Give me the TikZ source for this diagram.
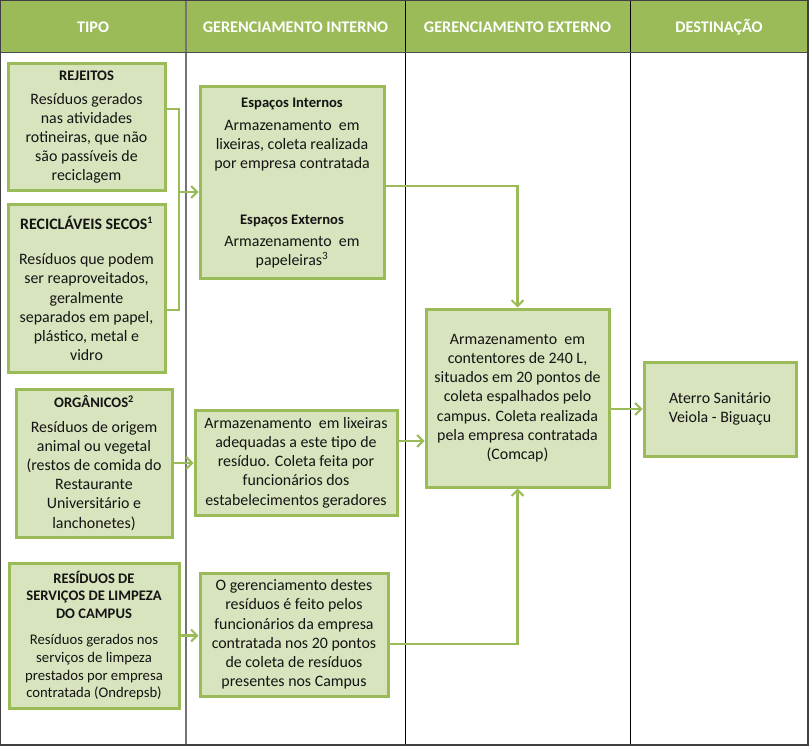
\documentclass[tikz,border=0pt]{standalone}
\usepackage{fontspec}
\setmainfont{Carlito}
\usetikzlibrary{arrows.meta}
\definecolor{hdr}{HTML}{9BBB59}
\definecolor{boxfill}{HTML}{D7E4BD}
\definecolor{boxline}{HTML}{9BBB59}
\definecolor{txt}{HTML}{141414}
\newcommand{\ttl}[1]{{\fontsize{14.6}{19.2}\selectfont\bfseries #1}}
\newcommand{\stl}[1]{{\fontsize{14.6}{17}\selectfont\bfseries #1}}
\begin{document}
\begin{tikzpicture}[x=1pt,y=-1pt,
  box/.style={draw=boxline, fill=boxfill, line width=3pt, align=center, inner sep=0pt, text=txt, font=\fontsize{15.9}{19.2}\selectfont},
  link/.style={draw=hdr, line width=2.5pt},
  arr/.style={link, -{Straight Barb[length=6pt,width=12pt,line width=2pt]}},
  hd/.style={text=white, font=\bfseries\fontsize{16.2}{18}\selectfont}]
\useasboundingbox (0,0) rectangle (809,746);
\fill[white] (0,0) rectangle (809,746);
\fill[hdr] (0,0) rectangle (808,53);
% columns
\draw[black!55, line width=2pt] (186,0) -- (186,745);
\draw[black, line width=1pt] (405,0) -- (405,745);
\draw[black, line width=1pt] (630,0) -- (630,745);
\draw[black!75, line width=1.2pt] (0.6,0.6) rectangle (808,745);
\draw[black!70, line width=1pt] (0,53) -- (808,53);
% headers
\node[hd] (h1) at (93,27) {TIPO};
\node[hd] (h2) at (295.5,27) {GERENCIAMENTO INTERNO};
\node[hd] (h3) at (517.5,27) {GERENCIAMENTO EXTERNO};
\node[hd] (h4) at (719,27) {DESTINAÇÃO};
% type boxes
\node[box, minimum width=157pt, minimum height=127pt] (rej) at (86.5,127.5)
  {\ttl{REJEITOS}\\[4pt]Resíduos gerados\\nas atividades\\rotineiras, que não\\são passíveis de\\reciclagem};
\node[box, minimum width=157pt, minimum height=167pt] (rec) at (86.5,288.5)
  {\textbf{RECICLÁVEIS SECOS\textsuperscript{\fontsize{10}{10}\selectfont 1}}\\[16pt]Resíduos que podem\\ser reaproveitados,\\geralmente\\separados em papel,\\plástico, metal e\\vidro};
\node[box, minimum width=156pt, minimum height=148pt] (org) at (94,463)
  {\ttl{ORGÂNICOS\textsuperscript{2}}\\[5pt]Resíduos de origem\\animal ou vegetal\\(restos de comida do\\Restaurante\\Universitário e\\lanchonetes)};
\node[box, minimum width=170pt, minimum height=145pt, font=\fontsize{14.7}{17.6}\selectfont] (lim) at (94,635.5)
  {\stl{RESÍDUOS DE}\\\stl{SERVIÇOS DE LIMPEZA}\\\stl{DO CAMPUS}\\[9pt]Resíduos gerados nos\\serviços de limpeza\\prestados por empresa\\contratada (Ondrepsb)};
% internal boxes
\node[box, minimum width=184pt, minimum height=192pt] (esp) at (292,183)
  {\ttl{Espaços Internos}\\[4pt]Armazenamento\ \ em\\lixeiras, coleta realizada\\por empresa contratada\\[36pt]\ttl{Espaços Externos}\\[3pt]Armazenamento\ \ em\\papeleiras\textsuperscript{3}};
\node[box, minimum width=202pt, minimum height=105pt] (orgi) at (296,462.5)
  {Armazenamento\ \ em lixeiras\\adequadas a este tipo de\\resíduo. Coleta feita por\\funcionários dos\\estabelecimentos geradores};
\node[box, minimum width=188pt, minimum height=123pt] (limi) at (294,634.5)
  {O gerenciamento destes\\resíduos é feito pelos\\funcionários da empresa\\contratada nos 20 pontos\\de coleta de resíduos\\presentes nos Campus};
% external
\node[box, minimum width=183pt, minimum height=178pt] (cont) at (517.5,398)
  {Armazenamento\ \ em\\contentores de 240 L,\\situados em 20 pontos de\\coleta espalhados pelo\\campus. Coleta realizada\\pela empresa contratada\\(Comcap)};
% destination
\node[box, minimum width=152pt, minimum height=94pt] (ater) at (720,409)
  {Aterro Sanitário\\Veiola - Biguaçu};
% connectors
\coordinate (bt) at (179,109);
\coordinate (bb) at (179,310);
\coordinate (bm) at (179,192);
\draw[link] (rej.east |- bt) -- (bt) -- (bb) -- (rec.east |- bb);
\draw[arr] (bm) -- (esp.west |- bm);
\coordinate (e1) at (385,186);
\draw[arr] (esp.east |- e1) -| (cont.north);
\draw[arr] (org.east) -- (orgi.west |- org.east);
\coordinate (o1) at (398,441);
\draw[arr] (orgi.east |- o1) -- (cont.west |- o1);
\draw[arr] (lim.east) -- (limi.west |- lim.east);
\coordinate (l1) at (389,644);
\draw[arr] (limi.east |- l1) -| (cont.south);
\draw[arr] (cont.east |- ater.west) -- (ater.west);
\end{tikzpicture}
\end{document}
